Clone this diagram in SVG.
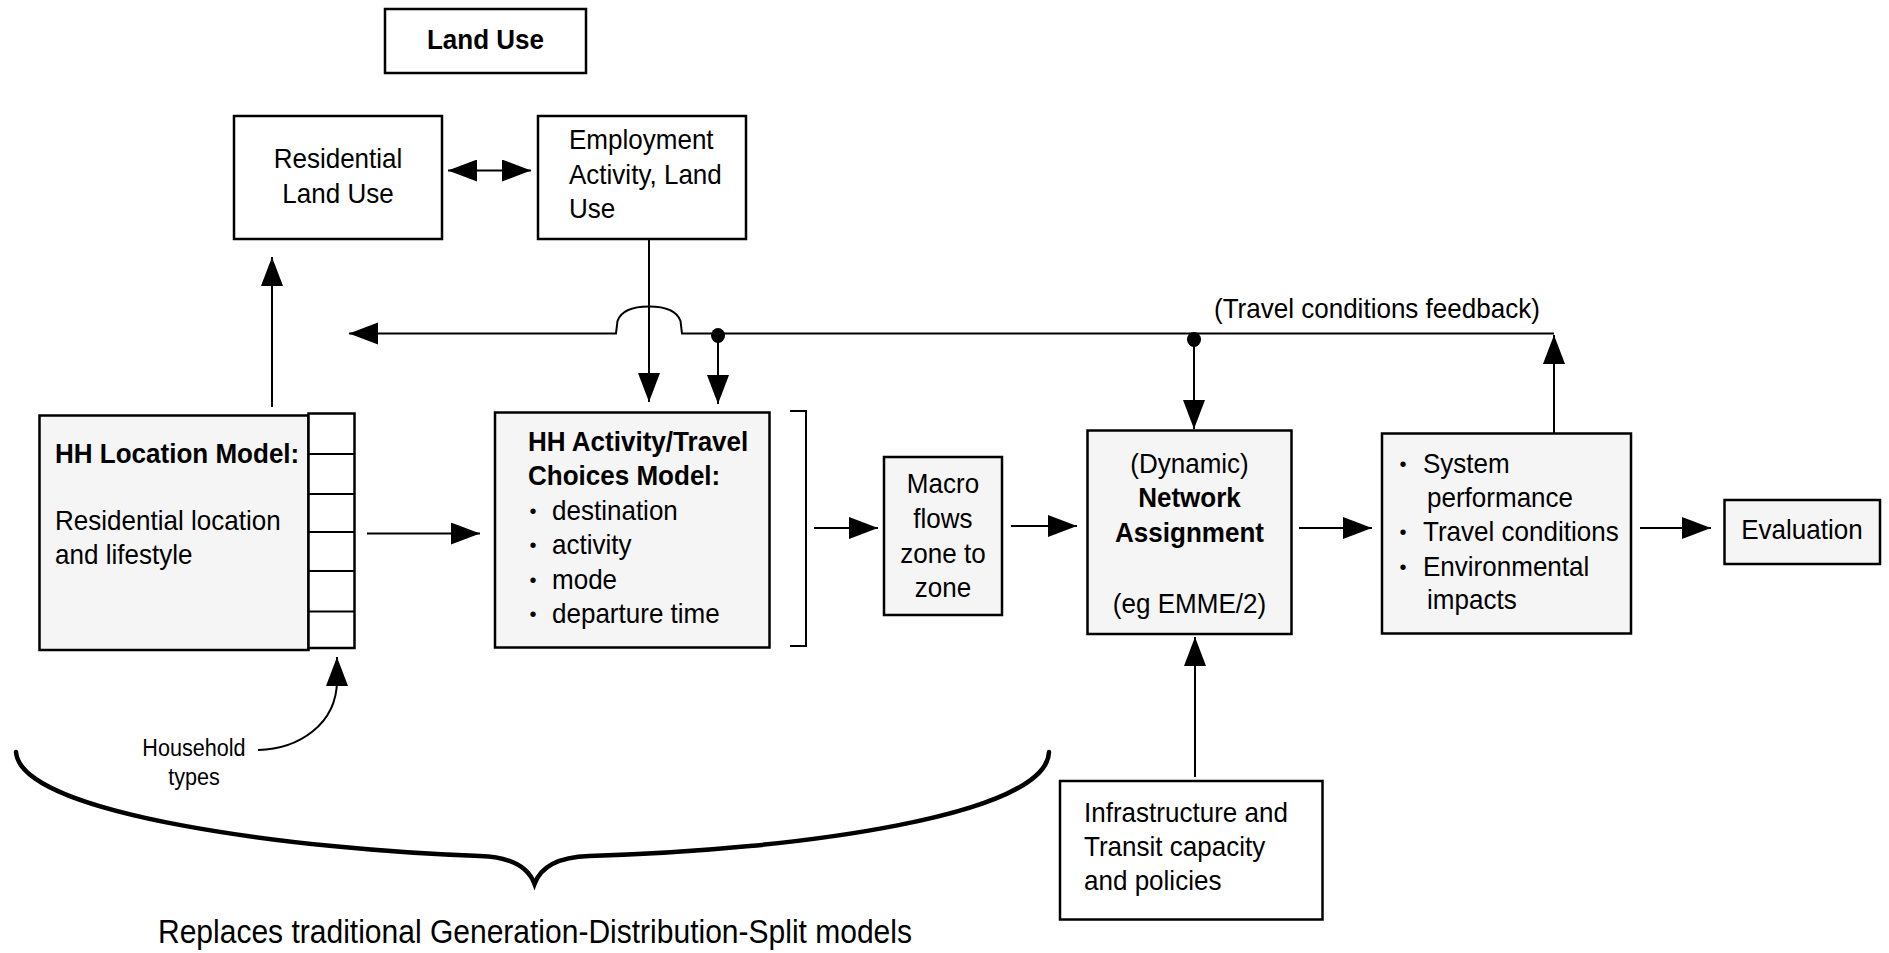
<svg xmlns="http://www.w3.org/2000/svg" width="1889" height="953" viewBox="0 0 1889 953">
<style>
  .box { fill: #ffffff; stroke: #000; stroke-width: 2.5; }
  .gbox { fill: #f5f5f5; stroke: #000; stroke-width: 2.5; }
  .t { font-family: "Liberation Sans", Arial, sans-serif; font-size: 28px; fill: #000; transform-box: fill-box; transform-origin: 0% 50%; transform: scaleX(0.93); }
  .b { font-weight: bold; }
  .c { text-anchor: middle; transform-origin: 50% 50%; }
  .sm { font-size: 24px; transform: scaleX(0.9); }
  .big { font-size: 33px; transform: scaleX(0.91); }
  .bul { font-family: "Liberation Sans", Arial, sans-serif; font-size: 20px; fill: #000; text-anchor: middle; }
  .ln { fill: none; stroke: #000; stroke-width: 2; }
  .arr { fill: none; stroke: #000; stroke-width: 2; marker-end: url(#ah); }
  .brace { fill: none; stroke: #000; stroke-width: 4.5; stroke-linecap: round; }
</style>
<defs>
  <marker id="ah" markerUnits="userSpaceOnUse" markerWidth="30" markerHeight="24" refX="29" refY="11" orient="auto">
    <path d="M0,0 L29,11 L0,22 Z" fill="#000"/>
  </marker>
  <marker id="ahs" markerUnits="userSpaceOnUse" markerWidth="30" markerHeight="24" refX="0" refY="11" orient="auto">
    <path d="M29,0 L0,11 L29,22 Z" fill="#000"/>
  </marker>
</defs>

<g id="land-use-title">
  <rect class="box" x="385" y="9" width="201" height="64"/>
  <text class="t b c" x="485.5" y="49">Land Use</text>
</g>

<g id="residential-land-use">
  <rect class="box" x="234" y="116" width="208" height="123"/>
  <text class="t c" x="338" y="168">Residential</text>
  <text class="t c" x="338" y="203">Land Use</text>
</g>

<g id="employment">
  <rect class="box" x="538" y="116" width="208" height="123"/>
  <text class="t" x="569" y="149">Employment</text>
  <text class="t" x="569" y="184">Activity, Land</text>
  <text class="t" x="569" y="218">Use</text>
</g>

<g id="hh-location">
  <rect class="gbox" x="39.5" y="415.5" width="269" height="234.5"/>
  <text class="t b" x="55" y="463">HH Location Model:</text>
  <text class="t" x="55" y="530">Residential location</text>
  <text class="t" x="55" y="564">and lifestyle</text>
  <g id="household-type-cells">
    <rect class="box" x="308.5" y="413.5" width="46" height="234.5"/>
    <path class="ln" d="M308.5,454 H354.5 M308.5,494 H354.5 M308.5,532 H354.5 M308.5,571 H354.5 M308.5,611.5 H354.5" stroke-width="2.5"/>
  </g>
</g>

<g id="hh-activity">
  <rect class="gbox" x="495" y="412.5" width="274.5" height="235"/>
  <text class="t b" x="528" y="451">HH Activity/Travel</text>
  <text class="t b" x="528" y="485">Choices Model:</text>
  <text class="bul" x="533" y="518">•</text>
  <text class="t" x="552" y="520">destination</text>
  <text class="bul" x="533" y="552">•</text>
  <text class="t" x="552" y="554">activity</text>
  <text class="bul" x="533" y="587">•</text>
  <text class="t" x="552" y="589">mode</text>
  <text class="bul" x="533" y="621">•</text>
  <text class="t" x="552" y="623">departure time</text>
</g>

<g id="macro-flows">
  <rect class="gbox" x="884" y="457" width="118" height="158"/>
  <text class="t c" x="943" y="493">Macro</text>
  <text class="t c" x="943" y="528">flows</text>
  <text class="t c" x="943" y="563">zone to</text>
  <text class="t c" x="943" y="597">zone</text>
</g>

<g id="network-assignment">
  <rect class="gbox" x="1087.5" y="430.5" width="204" height="203.5"/>
  <text class="t c" x="1189.5" y="473">(Dynamic)</text>
  <text class="t b c" x="1189.5" y="507">Network</text>
  <text class="t b c" x="1189.5" y="542">Assignment</text>
  <text class="t c" x="1189.5" y="613">(eg EMME/2)</text>
</g>

<g id="system-performance">
  <rect class="gbox" x="1382" y="433.5" width="249" height="200"/>
  <text class="bul" x="1403" y="471">•</text>
  <text class="t" x="1423" y="473">System</text>
  <text class="t" x="1427" y="507">performance</text>
  <text class="bul" x="1403" y="539">•</text>
  <text class="t" x="1423" y="541">Travel conditions</text>
  <text class="bul" x="1403" y="574">•</text>
  <text class="t" x="1423" y="576">Environmental</text>
  <text class="t" x="1427" y="609">impacts</text>
</g>

<g id="evaluation">
  <rect class="gbox" x="1724.5" y="500" width="155.5" height="64"/>
  <text class="t c" x="1802" y="539">Evaluation</text>
</g>

<g id="infrastructure">
  <rect class="box" x="1060" y="781" width="262.5" height="138.5"/>
  <text class="t" x="1084" y="822">Infrastructure and</text>
  <text class="t" x="1084" y="856">Transit capacity</text>
  <text class="t" x="1084" y="890">and policies</text>
</g>

<g id="feedback-label">
  <text class="t" x="1214" y="318.5">(Travel conditions feedback)</text>
</g>

<g id="household-types-label">
  <text class="t sm c" x="194" y="756.5">Household</text>
  <text class="t sm c" x="194" y="785">types</text>
</g>

<g id="replaces-brace">
  <path class="brace" d="M16,752 C20,815 300,850 480,856 C510,857 528,866 534.5,884 C541,866 559,857 589,856 C800,850 1047,815 1049,752"/>
  <text class="t big c" x="535" y="943">Replaces traditional Generation-Distribution-Split models</text>
</g>

<g id="connectors">
  <line class="arr" x1="272" y1="407" x2="272" y2="257"/>
  <line class="arr" x1="448" y1="170.5" x2="531" y2="170.5" style="marker-start:url(#ahs)"/>
  <line class="arr" x1="649" y1="239" x2="649" y2="402"/>
  <path class="arr" d="M1554,333.5 L682,333.5 L680.5,321 C677,311 665,306.5 649,306.5 C633,306.5 621,311 617.5,321 L616,333.5 L349,333.5"/>
  <ellipse cx="718" cy="335.5" rx="7" ry="7.5" fill="#000"/>
  <ellipse cx="1194" cy="339.5" rx="7" ry="7.5" fill="#000"/>
  <line class="arr" x1="718" y1="336" x2="718" y2="404"/>
  <line class="arr" x1="1194" y1="340" x2="1194" y2="429"/>
  <line class="arr" x1="1554" y1="433.5" x2="1554" y2="335"/>
  <line class="arr" x1="367" y1="533.5" x2="480" y2="533.5"/>
  <path class="ln" d="M790,411 H806 V646 H790"/>
  <line class="arr" x1="814" y1="528" x2="878" y2="528"/>
  <line class="arr" x1="1011" y1="526" x2="1077" y2="526"/>
  <line class="arr" x1="1299" y1="528" x2="1372" y2="528"/>
  <line class="arr" x1="1640" y1="528" x2="1711" y2="528"/>
  <line class="arr" x1="1195" y1="777" x2="1195" y2="637"/>
  <path class="arr" d="M258,750 C298,749 337,725 337,680 L337,657"/>
</g>
</svg>
